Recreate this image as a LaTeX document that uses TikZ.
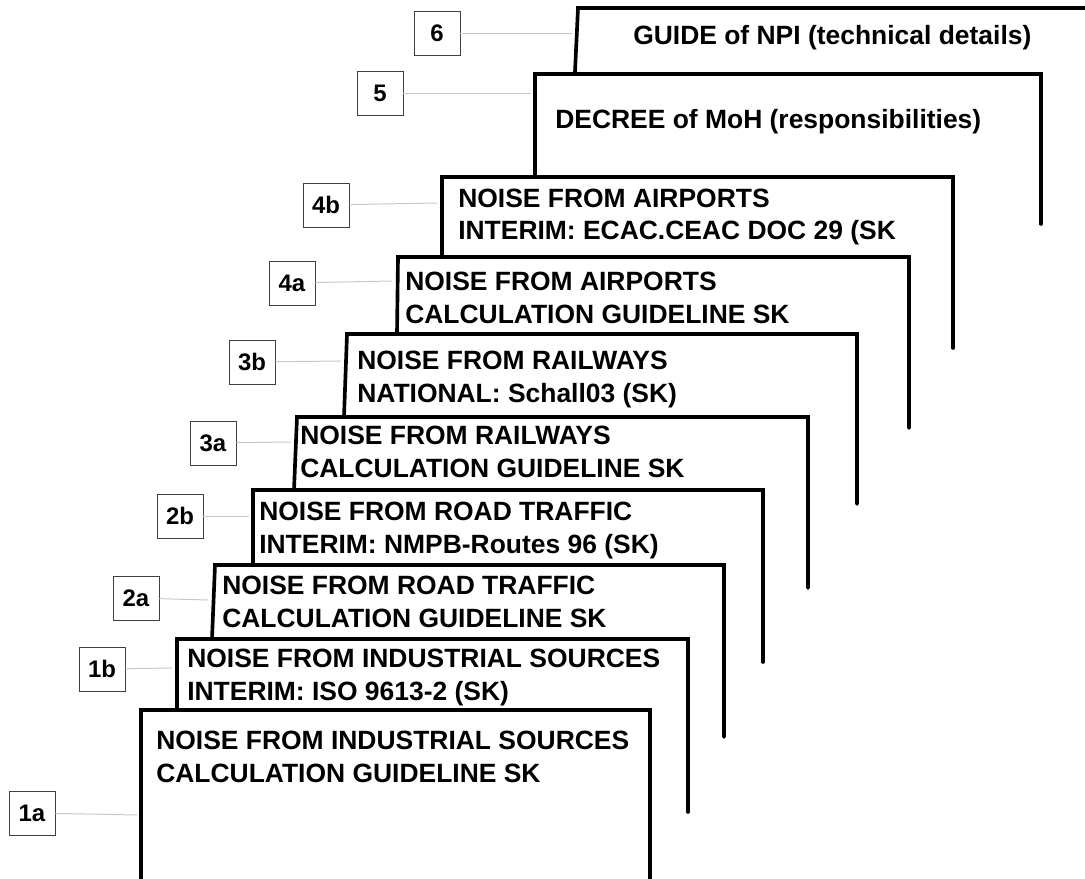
\documentclass[tikz,border=0pt]{standalone}
\usepackage{fontspec}
\setmainfont{Liberation Sans}
\begin{document}
\begin{tikzpicture}[x=0.025cm, y=-0.025cm,
    page/.style={line width=2.6pt, line cap=round},
    pagetext/.style={anchor=base west, inner sep=0pt, align=left,
        font=\fontsize{18.8}{23.4}\selectfont\bfseries},
    tag/.style={draw=black!75, line width=0.6pt, minimum width=1.15cm,
        minimum height=1.1cm, inner sep=0pt,
        font=\fontsize{17}{18}\selectfont\bfseries},
    leader/.style={draw=black!22, line width=0.7pt}]
    \useasboundingbox (0,0) rectangle (1085,879);

    % Pages (back to front)
    \draw[page] (575,72) -- (578,8) -- (1085,8);
    \node[pagetext] (t6) at (633,45) {GUIDE of NPI (technical details)};

    \draw[page] (535,176) -- (535,74) -- (1041,74) -- (1041,224);
    \node[pagetext] (t5) at (555,129) {DECREE of MoH (responsibilities)};

    \draw[page] (442,257) -- (442,177) -- (953,177) -- (953,348);
    \node[pagetext] (t4b) at (458,240) {NOISE FROM AIRPORTS\\INTERIM: ECAC.CEAC DOC 29 (SK};

    \draw[page] (397,334) -- (398,257) -- (909,257) -- (909,428);
    \node[pagetext] (t4a) at (405,323) {NOISE FROM AIRPORTS\\CALCULATION GUIDELINE SK};

    \draw[page] (344,417) -- (347,334) -- (857,334) -- (857,504);
    \node[pagetext] (t3b) at (357,402) {NOISE FROM RAILWAYS\\NATIONAL: Schall03 (SK)};

    \draw[page] (294,490) -- (297,417) -- (808,417) -- (808,588);
    \node[pagetext] (t3a) at (300,477) {NOISE FROM RAILWAYS\\CALCULATION GUIDELINE SK};

    \draw[page] (253,565) -- (253,490) -- (763,490) -- (763,662);
    \node[pagetext] (t2b) at (259,553) {NOISE FROM ROAD TRAFFIC\\INTERIM: NMPB-Routes 96 (SK)};

    \draw[page] (212,639) -- (215,565) -- (724,565) -- (724,737);
    \node[pagetext] (t2a) at (222,627) {NOISE FROM ROAD TRAFFIC\\CALCULATION GUIDELINE SK};

    \draw[page] (177,710) -- (177,639) -- (688,639) -- (688,812);
    \node[pagetext] (t1b) at (187,700) {NOISE FROM INDUSTRIAL SOURCES\\INTERIM: ISO 9613-2 (SK)};

    \draw[page] (141,885) -- (141,710) -- (650,710) -- (650,885);
    \node[pagetext] (t1a) at (156,782) {NOISE FROM INDUSTRIAL SOURCES\\CALCULATION GUIDELINE SK};

    % Tags and leaders
    \node[tag] (l6) at (437,33) {6};
    \coordinate (c6) at (572,33);
    \draw[leader] (l6) -- (c6);

    \node[tag] (l5) at (380,93) {5};
    \coordinate (c5) at (531,93);
    \draw[leader] (l5) -- (c5);

    \node[tag] (l4b) at (326,205) {4b};
    \coordinate (c4b) at (437,203);
    \draw[leader] (l4b) -- (c4b);

    \node[tag] (l4a) at (292,283) {4a};
    \coordinate (c4a) at (392,281);
    \draw[leader] (l4a) -- (c4a);

    \node[tag] (l3b) at (252,362) {3b};
    \coordinate (c3b) at (341,361);
    \draw[leader] (l3b) -- (c3b);

    \node[tag] (l3a) at (213,443) {3a};
    \coordinate (c3a) at (291,442);
    \draw[leader] (l3a) -- (c3a);

    \node[tag] (l2b) at (180,516) {2b};
    \coordinate (c2b) at (249,516);
    \draw[leader] (l2b) -- (c2b);

    \node[tag] (l2a) at (136,598) {2a};
    \coordinate (c2a) at (208,600);
    \draw[leader] (l2a) -- (c2a);

    \node[tag] (l1b) at (102,669) {1b};
    \coordinate (c1b) at (172,668);
    \draw[leader] (l1b) -- (c1b);

    \node[tag] (l1a) at (32,813) {1a};
    \coordinate (c1a) at (137,815);
    \draw[leader] (l1a) -- (c1a);
\end{tikzpicture}
\end{document}
